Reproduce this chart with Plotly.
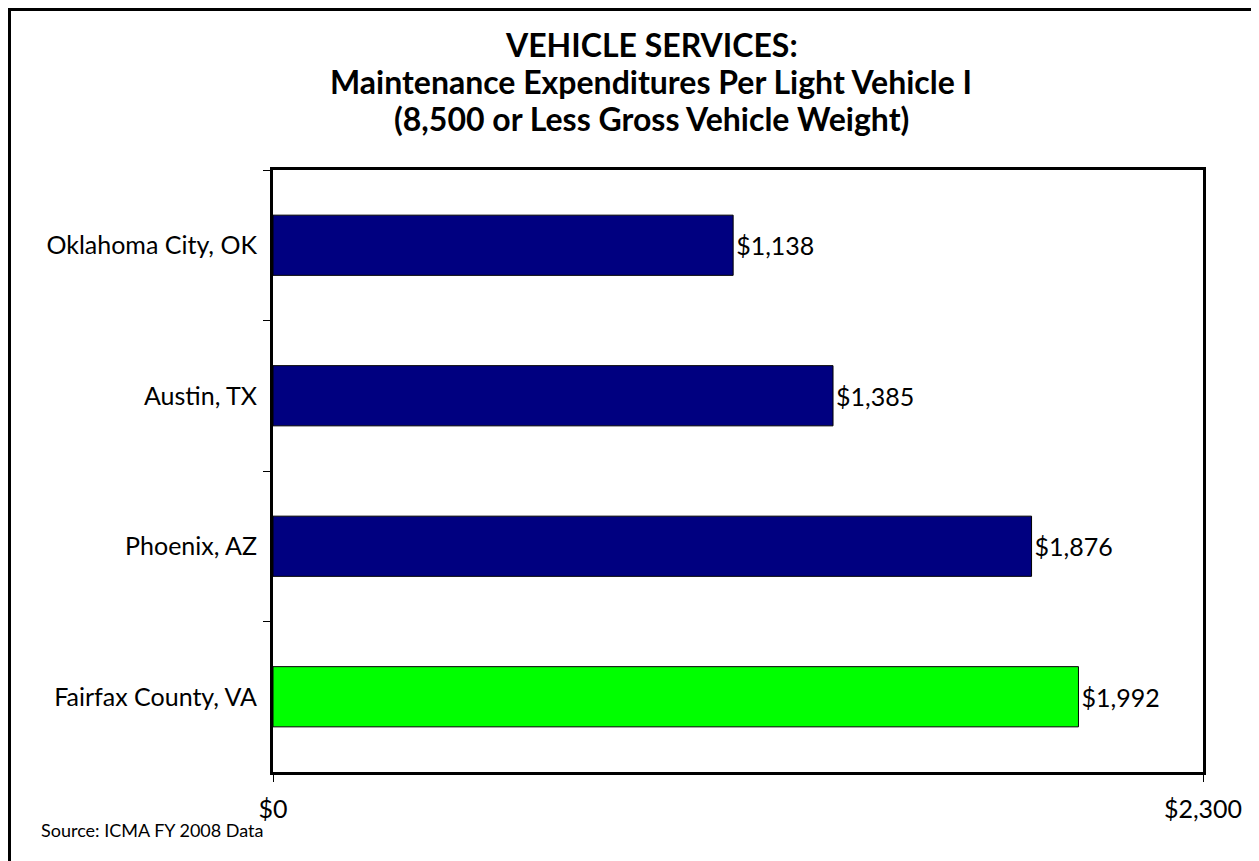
# Maintenance expenditures per light vehicle - horizontal bar chart
import plotly.graph_objects as go

cities = ["Oklahoma City, OK", "Austin, TX", "Phoenix, AZ", "Fairfax County, VA"]
costs = [1138, 1385, 1876, 1992]
bar_colors = ["#000080", "#000080", "#000080", "#00FF00"]
x_ticks = [0, 2300]
x_tick_text = ["$0", "$2,300"]
title_lines = [
    "VEHICLE SERVICES:",
    "Maintenance Expenditures Per Light Vehicle I",
    "(8,500 or Less Gross Vehicle Weight)",
]

font_family = "Lato, 'Open Sans', sans-serif"

# the page body has an 8px margin, so the figure is shrunk and everything
# is placed in page pixels minus that offset
OFF = 8
W, H = 1259 - OFF, 861 - OFF
margin = dict(l=273 - OFF, r=W - (1203 - OFF), t=170 - OFF, b=H - (772 - OFF))
plot_w = W - margin["l"] - margin["r"]
plot_h = H - margin["t"] - margin["b"]


def px_x(px):
    # page pixel column -> paper x
    return (px - OFF - margin["l"]) / plot_w


def px_y(py):
    # page pixel row -> paper y
    return (H - margin["b"] - (py - OFF)) / plot_h


fig = go.Figure()

fig.add_trace(
    go.Bar(
        x=costs, y=cities,
        orientation="h",
        width=0.4,
        marker=dict(color=bar_colors, line=dict(color="black", width=1)),
        text=[f"${v:,}" for v in costs],
        textposition="outside",
        textfont=dict(size=25, color="black", family=font_family),
        cliponaxis=False,
        hoverinfo="skip",
    )
)

# outer frame (left, top, right; the bottom edge is cut off in the original)
x_l, x_r = px_x(9.5), px_x(1256.5)
y_t, y_b = px_y(9.5), px_y(870)
fig.add_shape(
    type="path", xref="paper", yref="paper",
    path=f"M {x_l} {y_b} L {x_l} {y_t} L {x_r} {y_t} L {x_r} {y_b}",
    line=dict(color="black", width=3),
)

# title, one annotation per line to keep the tight line spacing
for line, yc in zip(title_lines, [44, 81, 118]):
    fig.add_annotation(
        text=f"<b>{line}</b>",
        xref="paper", yref="paper", x=px_x(651), y=px_y(yc),
        xanchor="center", yanchor="middle", showarrow=False,
        font=dict(size=32, color="black", family=font_family),
    )

fig.add_annotation(
    text="Source: ICMA FY 2008 Data",
    xref="paper", yref="paper", x=px_x(39), y=px_y(830),
    xanchor="left", yanchor="middle", showarrow=False,
    font=dict(size=18, color="black", family=font_family),
)

fig.update_layout(
    xaxis=dict(
        range=[0, 2300], tickvals=x_ticks, ticktext=x_tick_text,
        showgrid=False, zeroline=False,
        showline=True, linecolor="black", linewidth=3, mirror=True,
        ticks="outside", ticklen=7, tickwidth=1, tickcolor="black",
        ticklabelstandoff=6,
        tickfont=dict(size=25, color="black", family=font_family),
        fixedrange=True,
    ),
    yaxis=dict(
        type="category", categoryorder="array", categoryarray=cities,
        autorange="reversed", tickson="boundaries",
        showgrid=False, zeroline=False,
        showline=True, linecolor="black", linewidth=3, mirror=True,
        ticks="outside", ticklen=7, tickwidth=1, tickcolor="black",
        ticklabelstandoff=8,
        tickfont=dict(size=25, color="black", family=font_family),
        fixedrange=True,
    ),
    showlegend=False,
    plot_bgcolor="white",
    paper_bgcolor="white",
    width=W, height=H,
    margin=margin,
)

fig.write_html("out.html")
